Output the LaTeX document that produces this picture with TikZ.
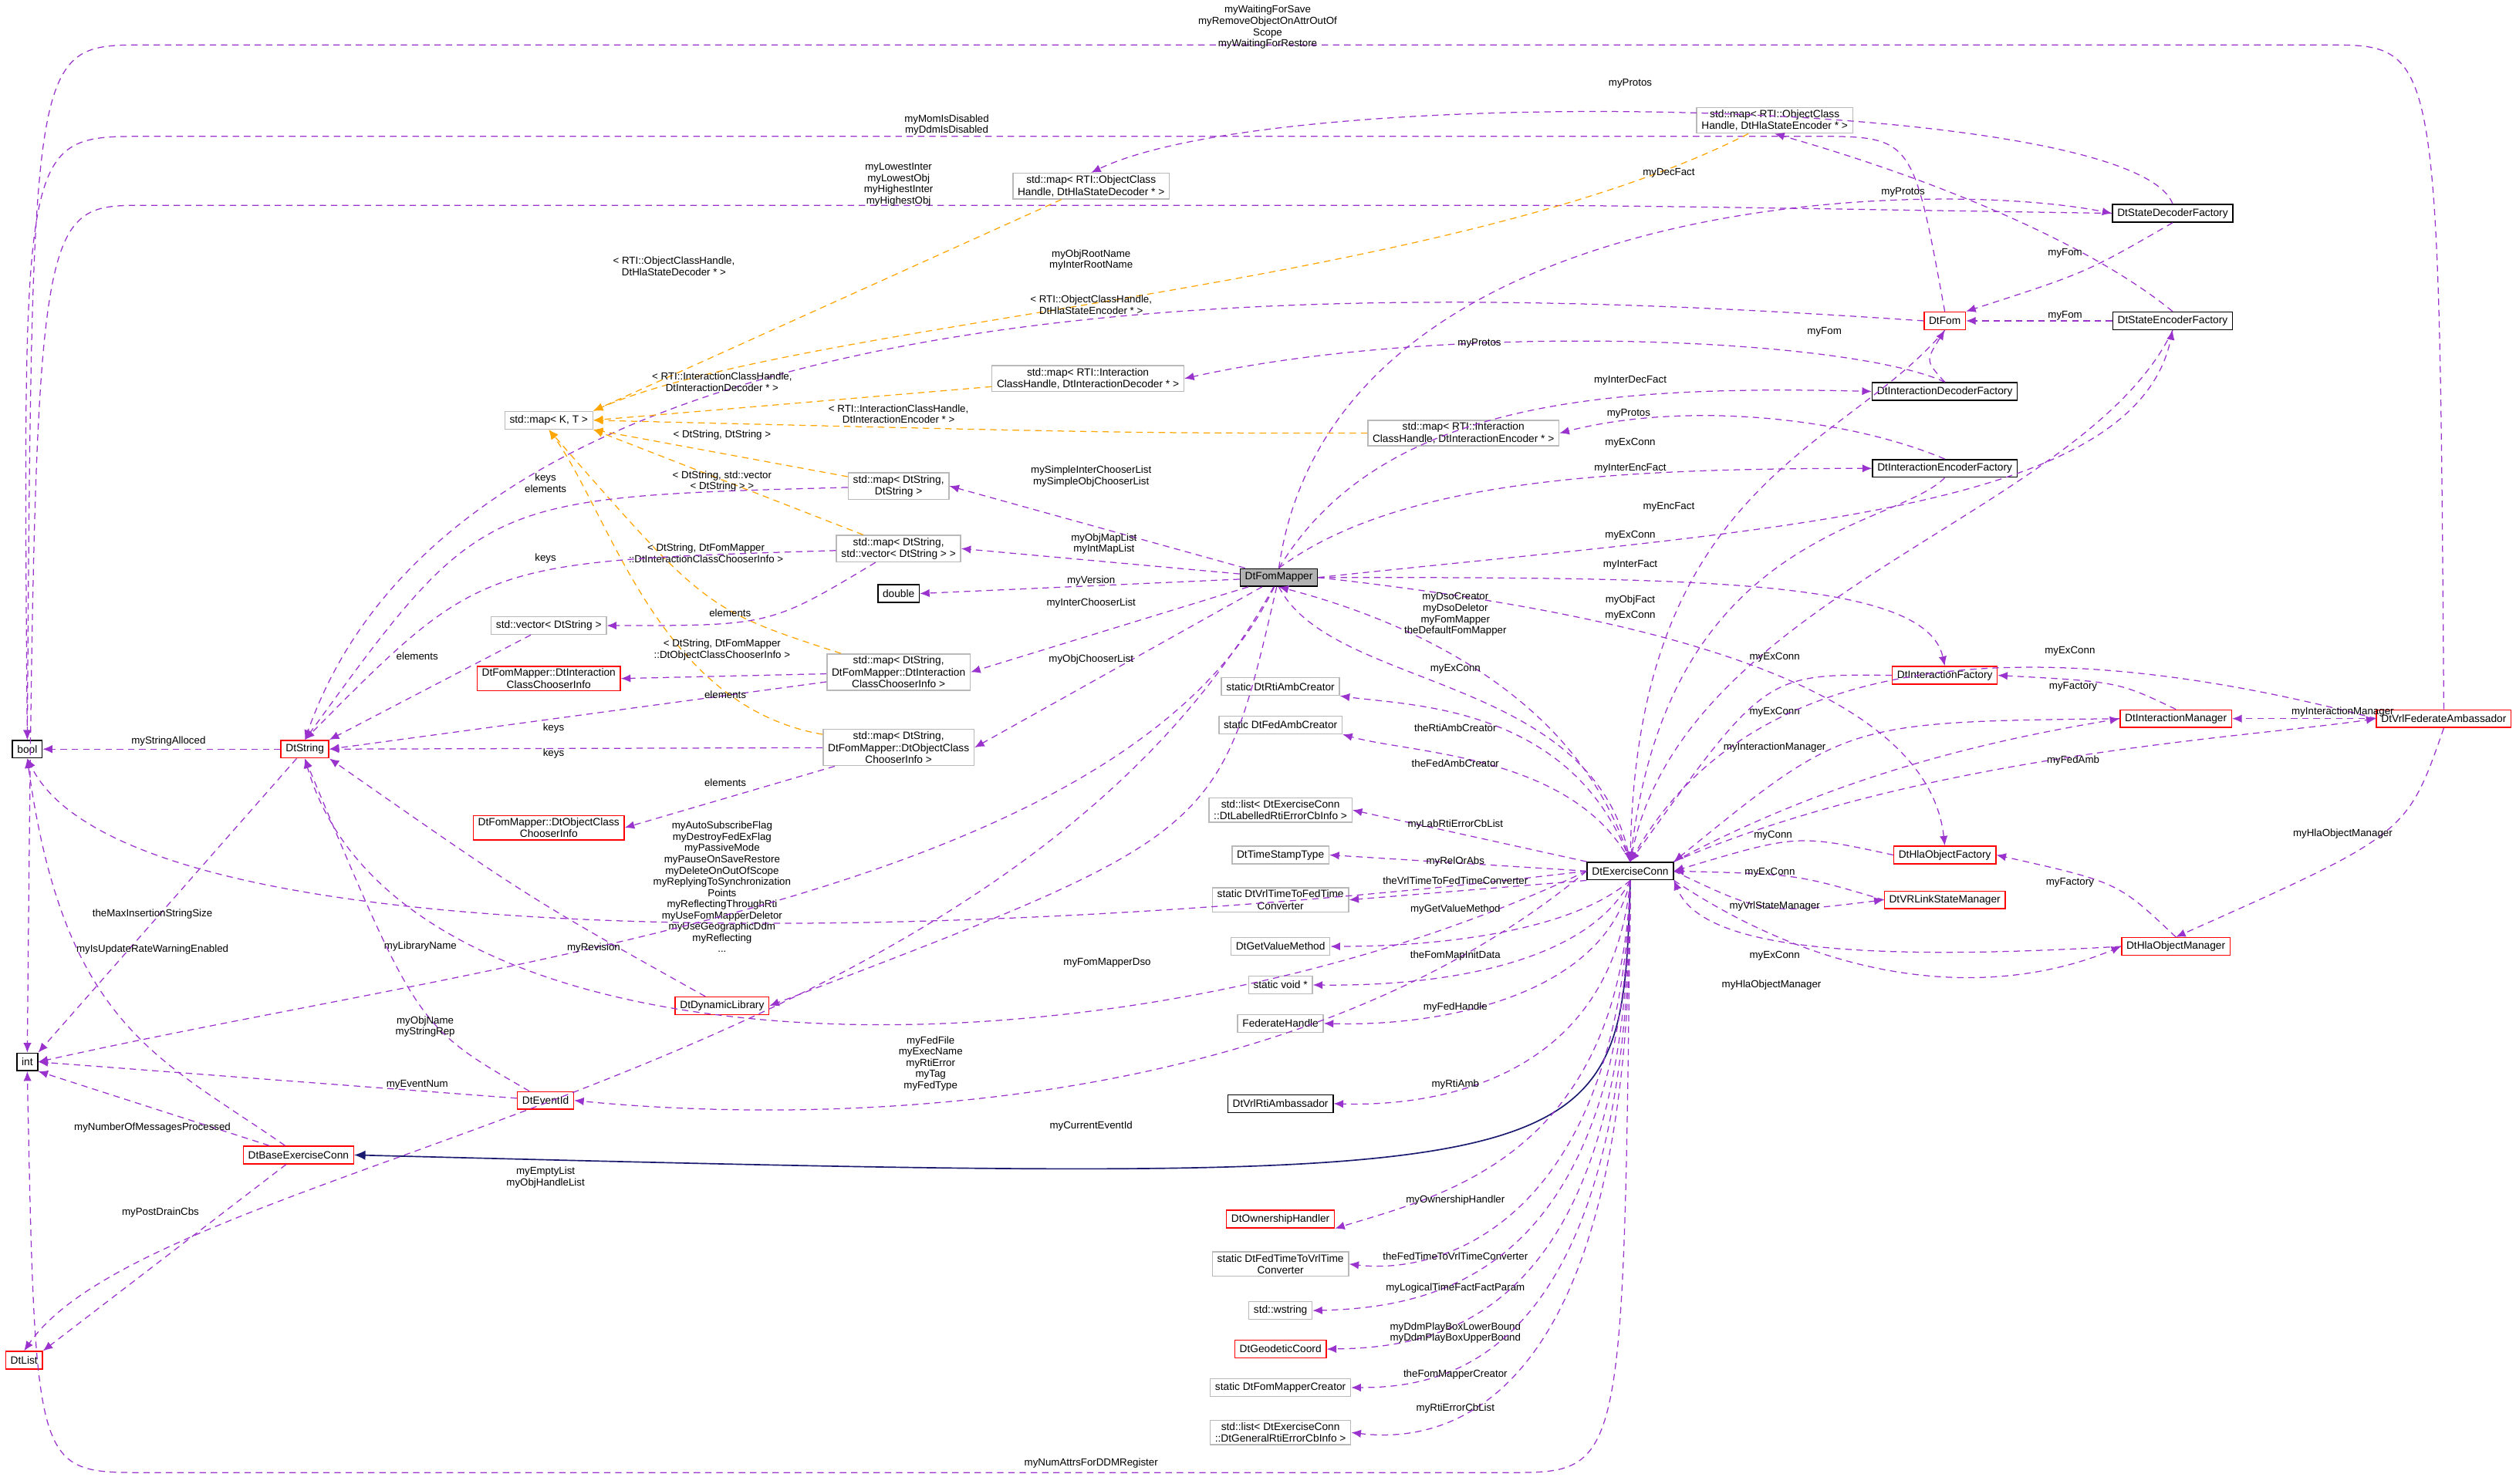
\documentclass[tikz,border=0pt]{standalone}
\usepackage{fontspec}
\setmainfont{Liberation Sans}
\usetikzlibrary{arrows.meta}
\definecolor{pur}{HTML}{9A32CD}
\definecolor{org}{HTML}{FFA500}
\definecolor{nav}{HTML}{191970}
\begin{document}
\begin{tikzpicture}[x=1pt,y=-1pt,
 box/.style={draw=black,line width=0.7pt,font=\fontsize{6.6}{7.4}\selectfont,inner xsep=3pt,inner ysep=1.5pt,minimum height=11,align=center},
 rbox/.style={box,draw=red},
 gbox/.style={box,draw=gray!55},
 fbox/.style={box,fill=gray!60},
 e/.style={pur,dashed,dash pattern=on 4pt off 3pt,line width=0.6pt,-{Latex[length=6pt,width=5pt]}},
 o/.style={e,org},
 inh/.style={nav,line width=0.8pt,-{Latex[length=7pt,width=6pt]}},
 lab/.style={font=\fontsize{6.4}{7}\selectfont,align=center,inner sep=0pt}]
\useasboundingbox (0,0) rectangle (1568,925);
% nodes
\node[box] (bool) at (17,467) {bool};
\node[box] (int) at (17,662) {int};
\node[rbox] (dtlist) at (15,848) {DtList};
\node[rbox] (dtstring) at (190,467) {DtString};
\node[rbox] (base) at (186,720) {DtBaseExerciseConn};
\node[rbox] (eventid) at (340,686) {DtEventId};
\node[rbox] (dynlib) at (450,627) {DtDynamicLibrary};
\node[rbox] (icci) at (342,423) {DtFomMapper::DtInteraction\\ClassChooserInfo};
\node[rbox] (occi) at (342,516) {DtFomMapper::DtObjectClass\\ChooserInfo};
\node[gbox] (vec) at (342,390) {std::vector< DtString >};
\node[gbox] (mapkt) at (342,262) {std::map< K, T >};
\node[gbox] (mdec) at (680,116) {std::map< RTI::ObjectClass\\Handle, DtHlaStateDecoder * >};
\node[gbox] (menc) at (1106,75) {std::map< RTI::ObjectClass\\Handle, DtHlaStateEncoder * >};
\node[gbox] (midec) at (678,236) {std::map< RTI::Interaction\\ClassHandle, DtInteractionDecoder * >};
\node[gbox] (mienc) at (912,270) {std::map< RTI::Interaction\\ClassHandle, DtInteractionEncoder * >};
\node[gbox] (mss) at (560,303) {std::map< DtString,\\DtString >};
\node[gbox] (msv) at (560,342) {std::map< DtString,\\std::vector< DtString > >};
\node[gbox] (mci) at (560,419) {std::map< DtString,\\DtFomMapper::DtInteraction\\ClassChooserInfo >};
\node[gbox] (moc) at (560,466) {std::map< DtString,\\DtFomMapper::DtObjectClass\\ChooserInfo >};
\node[fbox] (fm) at (797,360) {DtFomMapper};
\node[box] (dbl) at (560,370) {double};
\node[box] (sdf) at (1354,133) {DtStateDecoderFactory};
\node[rbox] (fom) at (1212,200) {DtFom};
\node[box] (sef) at (1354,200) {DtStateEncoderFactory};
\node[box] (idf) at (1212,244) {DtInteractionDecoderFactory};
\node[box] (ief) at (1212,292) {DtInteractionEncoderFactory};
\node[rbox] (ifac) at (1212,421) {DtInteractionFactory};
\node[rbox] (iman) at (1356,448) {DtInteractionManager};
\node[rbox] (vfa) at (1523,448) {DtVrlFederateAmbassador};
\node[rbox] (hof) at (1212,533) {DtHlaObjectFactory};
\node[rbox] (vrl) at (1212,561) {DtVRLinkStateManager};
\node[rbox] (hom) at (1356,590) {DtHlaObjectManager};
\node[box] (ec) at (1016,543) {DtExerciseConn};
\node[gbox] (b1) at (798,428) {static DtRtiAmbCreator};
\node[gbox] (b2) at (798,452) {static DtFedAmbCreator};
\node[gbox] (b3) at (798,505) {std::list< DtExerciseConn\\::DtLabelledRtiErrorCbInfo >};
\node[gbox] (b4) at (798,533) {DtTimeStampType};
\node[gbox] (b5) at (798,561) {static DtVrlTimeToFedTime\\Converter};
\node[gbox] (b6) at (798,590) {DtGetValueMethod};
\node[gbox] (b7) at (798,614) {static void *};
\node[gbox] (b8) at (798,638) {FederateHandle};
\node[box] (b9) at (798,688) {DtVrlRtiAmbassador};
\node[rbox] (b10) at (798,760) {DtOwnershipHandler};
\node[gbox] (b11) at (798,788) {static DtFedTimeToVrlTime\\Converter};
\node[gbox] (b12) at (798,817) {std::wstring};
\node[rbox] (b13) at (798,841) {DtGeodeticCoord};
\node[gbox] (b14) at (798,865) {static DtFomMapperCreator};
\node[gbox] (b15) at (798,893) {std::list< DtExerciseConn\\::DtGeneralRtiErrorCbInfo >};
% left region edges
\draw[e] (dtstring) -- (bool); \node[lab] (l1) at (105,462) {myStringAlloced};
\draw[e] (dtstring) -- (int.north east); \node[lab] (l2) at (95,570) {theMaxInsertionStringSize};
\draw[e] (base) .. controls (100,660) and (40,640) .. (bool.south); \node[lab] (l3) at (95,592) {myIsUpdateRateWarningEnabled};
\draw[e] (base) -- (int.south east); \node[lab] (l4) at (95,703) {myNumberOfMessagesProcessed};
\draw[e] (base) -- (dtlist.north east); \node[lab] (l5) at (100,756) {myPostDrainCbs};
\draw[e] (eventid) -- (int.east); \node[lab] (l6) at (260,676) {myEventNum};
\draw[e] (eventid) .. controls (260,640) .. (dtstring.south); \node[lab] (l7) at (265,640) {myObjName\\myStringRep};
\draw[e] (dynlib) .. controls (330,560) .. (dtstring.south east); \node[lab] (l8) at (262,590) {myLibraryName};
\draw[e] (ec.west) .. controls (600,590) and (80,600) .. (bool.south);
\node[lab] (l9) at (450,553) {myAutoSubscribeFlag\\myDestroyFedExFlag\\myPassiveMode\\myPauseOnSaveRestore\\myDeleteOnOutOfScope\\myReplyingToSynchronization\\Points\\myReflectingThroughRti\\myUseFomMapperDeletor\\myUseGeographicDdm\\myReflecting\\...};
\draw[e] (ec.west) .. controls (700,680) and (250,680) .. (dtstring.south); \node[lab] (l10) at (580,663) {myFedFile\\myExecName\\myRtiError\\myTag\\myFedType};
\draw[e] (ec.west) .. controls (800,700) and (500,700) .. (eventid.east); \node[lab] (l11) at (680,702) {myCurrentEventId};
\draw[e] (fm) .. controls (700,560) and (300,600) .. (int.east); \node[lab] (l12) at (370,591) {myRevision};
\draw[e] (fm) .. controls (760,520) .. (dynlib.east); \node[lab] (l13) at (690,600) {myFomMapperDso};
\draw[e] (fm) .. controls (620,680) and (100,720) .. (dtlist.north); \node[lab] (l14) at (340,734) {myEmptyList\\myObjHandleList};
\draw[inh] (ec.south) .. controls (1010,740) .. (base.east);
\draw[e] (ec.south) .. controls (1012,918) .. (940,918) -- (90,918) .. controls (22,918) .. (int.south); \node[lab] (l15) at (680,912) {myNumAttrsForDDMRegister};
\draw[e] (vfa.north) .. controls (1520,28) .. (1450,28) -- (90,28) .. controls (20,28) .. (bool.north); \node[lab] (l16) at (790,17) {myWaitingForSave\\myRemoveObjectOnAttrOutOf\\Scope\\myWaitingForRestore};
\draw[e] (fom.north) .. controls (1192,85) .. (1130,85) -- (90,85) .. controls (14,85) .. (bool.north); \node[lab] (l17) at (590,78) {myMomIsDisabled\\myDdmIsDisabled};
\draw[e] (sdf.west) .. controls (1000,128) .. (900,128) -- (90,128) .. controls (22,128) .. (int.north); \node[lab] (l18) at (560,115) {myLowestInter\\myLowestObj\\myHighestInter\\myHighestObj};
\draw[e] (fom.west) .. controls (900,180) and (300,150) .. (dtstring.north); \node[lab] (l19) at (680,162) {myObjRootName\\myInterRootName};
% template edges
\draw[o] (mdec) -- (mapkt.north east); \node[lab] (l20) at (420,166) {< RTI::ObjectClassHandle,\\DtHlaStateDecoder * >};
\draw[o] (menc) .. controls (900,180) and (500,200) .. (mapkt.north east); \node[lab] (l21) at (680,190) {< RTI::ObjectClassHandle,\\DtHlaStateEncoder * >};
\draw[o] (midec) -- (mapkt.east); \node[lab] (l22) at (450,238) {< RTI::InteractionClassHandle,\\DtInteractionDecoder * >};
\draw[o] (mienc) .. controls (700,270) .. (mapkt.east); \node[lab] (l23) at (560,258) {< RTI::InteractionClassHandle,\\DtInteractionEncoder * >};
\draw[o] (mss) -- (mapkt.south east); \node[lab] (l24) at (450,271) {< DtString, DtString >};
\draw[o] (msv) -- (mapkt.south east); \node[lab] (l25) at (450,300) {< DtString, std::vector\\< DtString > >};
\draw[o] (mci) .. controls (440,380) .. (mapkt.south); \node[lab] (l26) at (440,345) {< DtString, DtFomMapper\\::DtInteractionClassChooserInfo >};
\draw[o] (moc) .. controls (410,440) and (380,320) .. (mapkt.south); \node[lab] (l27) at (450,405) {< DtString, DtFomMapper\\::DtObjectClassChooserInfo >};
\draw[e] (vec) -- (dtstring.north east); \node[lab] (l28) at (260,409) {elements};
\draw[e] (mss) .. controls (300,310) .. (dtstring.north); \node[lab] (l29) at (340,301) {keys\\elements};
\draw[e] (msv) .. controls (300,350) .. (dtstring.north); \node[lab] (l30) at (340,348) {keys};
\draw[e] (msv) .. controls (480,390) .. (vec.east); \node[lab] (l31) at (455,382) {elements};
\draw[e] (mci) -- (dtstring.east); \node[lab] (l32) at (345,454) {keys};
\draw[e] (mci) -- (icci.east); \node[lab] (l33) at (452,433) {elements};
\draw[e] (moc) -- (dtstring.east); \node[lab] (l34) at (345,470) {keys};
\draw[e] (moc) -- (occi.east); \node[lab] (l35) at (452,488) {elements};
% DtFomMapper edges
\draw[e] (fm) -- (mss.east); \node[lab] (l36) at (680,297) {mySimpleInterChooserList\\mySimpleObjChooserList};
\draw[e] (fm) -- (msv.east); \node[lab] (l37) at (688,339) {myObjMapList\\myIntMapList};
\draw[e] (fm) -- (dbl.east); \node[lab] (l38) at (680,362) {myVersion};
\draw[e] (fm) -- (mci.east); \node[lab] (l39) at (680,376) {myInterChooserList};
\draw[e] (fm) -- (moc.east); \node[lab] (l40) at (680,411) {myObjChooserList};
\draw[e] (sdf.north) .. controls (1330,60) and (800,50) .. (mdec.north); \node[lab] (l41) at (1016,52) {myProtos};
\draw[e] (sef.north) .. controls (1300,150) and (1200,110) .. (menc.south); \node[lab] (l42) at (1186,120) {myProtos};
\draw[e] (idf.north) .. controls (1150,210) and (900,200) .. (midec.east); \node[lab] (l43) at (922,214) {myProtos};
\draw[e] (ief.north) .. controls (1150,260) and (1050,250) .. (mienc.east); \node[lab] (l44) at (1015,258) {myProtos};
\draw[e] (sdf.south) .. controls (1300,170) .. (fom.north east); \node[lab] (l45) at (1287,158) {myFom};
\draw[e] (sef.west) -- (fom.east); \node[lab] (l46) at (1287,197) {myFom};
\draw[e] (idf.north) .. controls (1200,225) .. (fom.south); \node[lab] (l47) at (1137,207) {myFom};
\draw[e] (fm.north) .. controls (830,120) and (1200,110) .. (sdf.west); \node[lab] (l48) at (1040,108) {myDecFact};
\draw[e] (fm.north) .. controls (860,250) and (1000,240) .. (idf.west); \node[lab] (l49) at (1016,237) {myInterDecFact};
\draw[e] (fm.north) .. controls (870,300) and (1000,292) .. (ief.west); \node[lab] (l50) at (1016,292) {myInterEncFact};
\draw[e] (fm.east) .. controls (1100,330) and (1330,320) .. (sef.south); \node[lab] (l51) at (1040,316) {myEncFact};
\draw[e] (fm.east) .. controls (1050,360) and (1200,360) .. (ifac.north); \node[lab] (l52) at (1016,352) {myInterFact};
\draw[e] (fm.east) .. controls (1000,380) and (1200,420) .. (hof.north); \node[lab] (l53) at (1016,374) {myObjFact};
\draw[e] (ec.north) .. controls (980,420) and (850,380) .. (fm.south); \node[lab] (l54) at (907,383) {myDsoCreator\\myDsoDeletor\\myFomMapper\\theDefaultFomMapper};
\draw[e] (fm.south) .. controls (830,430) and (990,420) .. (ec.north); \node[lab] (l55) at (907,417) {myExConn};
% myExConn edges to ec
\draw[e] (fom.south) .. controls (1150,280) and (1020,300) .. (ec.north); \node[lab] (l56) at (1016,276) {myExConn};
\draw[e] (ief.south) .. controls (1180,330) and (1040,330) .. (ec.north); \node[lab] (l57) at (1016,334) {myExConn};
\draw[e] (sef.south) .. controls (1300,320) and (1050,370) .. (ec.north); \node[lab] (l58) at (1016,384) {myExConn};
\draw[e] (ifac.west) .. controls (1100,420) .. (ec.north); \node[lab] (l59) at (1106,410) {myExConn};
\draw[e] (iman.west) .. controls (1150,450) .. (ec.north east); \node[lab] (l60) at (1106,444) {myExConn};
\draw[e] (vfa.west) .. controls (1300,400) and (1100,390) .. (ec.north); \node[lab] (l61) at (1290,406) {myExConn};
\draw[e] (hof.west) .. controls (1120,520) .. (ec.east); \node[lab] (l62) at (1105,521) {myConn};
\draw[e] (vrl.west) .. controls (1120,545) .. (ec.east); \node[lab] (l63) at (1103,544) {myExConn};
\draw[e] (hom.west) .. controls (1150,600) and (1060,590) .. (ec.south east); \node[lab] (l64) at (1106,596) {myExConn};
\draw[e] (ec.north east) .. controls (1150,480) and (1250,460) .. (iman.west); \node[lab] (l65) at (1106,466) {myInteractionManager};
\draw[e] (ec.north east) .. controls (1200,470) and (1400,460) .. (vfa.west); \node[lab] (l66) at (1292,474) {myFedAmb};
\draw[e] (ec.east) .. controls (1100,570) .. (vrl.west); \node[lab] (l67) at (1106,565) {myVrlStateManager};
\draw[e] (ec.south east) .. controls (1150,620) and (1250,620) .. (hom.west); \node[lab] (l68) at (1104,614) {myHlaObjectManager};
\draw[e] (iman.north) .. controls (1320,425) .. (ifac.east); \node[lab] (l69) at (1292,428) {myFactory};
\draw[e] (vfa.west) -- (iman.east); \node[lab] (l70) at (1460,444) {myInteractionManager};
\draw[e] (vfa.south) .. controls (1500,520) .. (hom.north); \node[lab] (l71) at (1460,520) {myHlaObjectManager};
\draw[e] (hom.north) .. controls (1320,550) .. (hof.east); \node[lab] (l72) at (1290,550) {myFactory};
% ec to left boxes
\draw[e] (ec.north) .. controls (980,440) and (880,440) .. (b1.south east); \node[lab] (l73) at (907,454) {theRtiAmbCreator};
\draw[e] (ec.north) .. controls (980,470) and (880,470) .. (b2.south east); \node[lab] (l74) at (907,476) {theFedAmbCreator};
\draw[e] (ec.north west) -- (b3.east); \node[lab] (l75) at (907,514) {myLabRtiErrorCbList};
\draw[e] (ec.west) -- (b4.east); \node[lab] (l76) at (907,537) {myRelOrAbs};
\draw[e] (ec.south west) -- (b5.east); \node[lab] (l77) at (907,549) {theVrlTimeToFedTimeConverter};
\draw[e] (ec.south) .. controls (980,580) and (900,590) .. (b6.east); \node[lab] (l78) at (907,567) {myGetValueMethod};
\draw[e] (ec.south) .. controls (990,600) and (900,615) .. (b7.east); \node[lab] (l79) at (907,596) {theFomMapInitData};
\draw[e] (ec.south) .. controls (1000,620) and (900,640) .. (b8.east); \node[lab] (l80) at (907,628) {myFedHandle};
\draw[e] (ec.south) .. controls (1005,670) and (900,690) .. (b9.east); \node[lab] (l81) at (907,676) {myRtiAmb};
\draw[e] (ec.south) .. controls (1010,720) and (900,745) .. (b10.south east); \node[lab] (l82) at (907,748) {myOwnershipHandler};
\draw[e] (ec.south) .. controls (1010,760) and (900,795) .. (b11.east); \node[lab] (l83) at (907,783) {theFedTimeToVrlTimeConverter};
\draw[e] (ec.south) .. controls (1012,790) and (900,815) .. (b12.east); \node[lab] (l84) at (907,803) {myLogicalTimeFactFactParam};
\draw[e] (ec.south) .. controls (1014,820) and (900,840) .. (b13.east); \node[lab] (l85) at (907,831) {myDdmPlayBoxLowerBound\\myDdmPlayBoxUpperBound};
\draw[e] (ec.south) .. controls (1016,850) and (900,865) .. (b14.east); \node[lab] (l86) at (907,857) {theFomMapperCreator};
\draw[e] (ec.south) .. controls (1018,880) and (900,900) .. (b15.east); \node[lab] (l87) at (907,878) {myRtiErrorCbList};
\end{tikzpicture}
\end{document}
